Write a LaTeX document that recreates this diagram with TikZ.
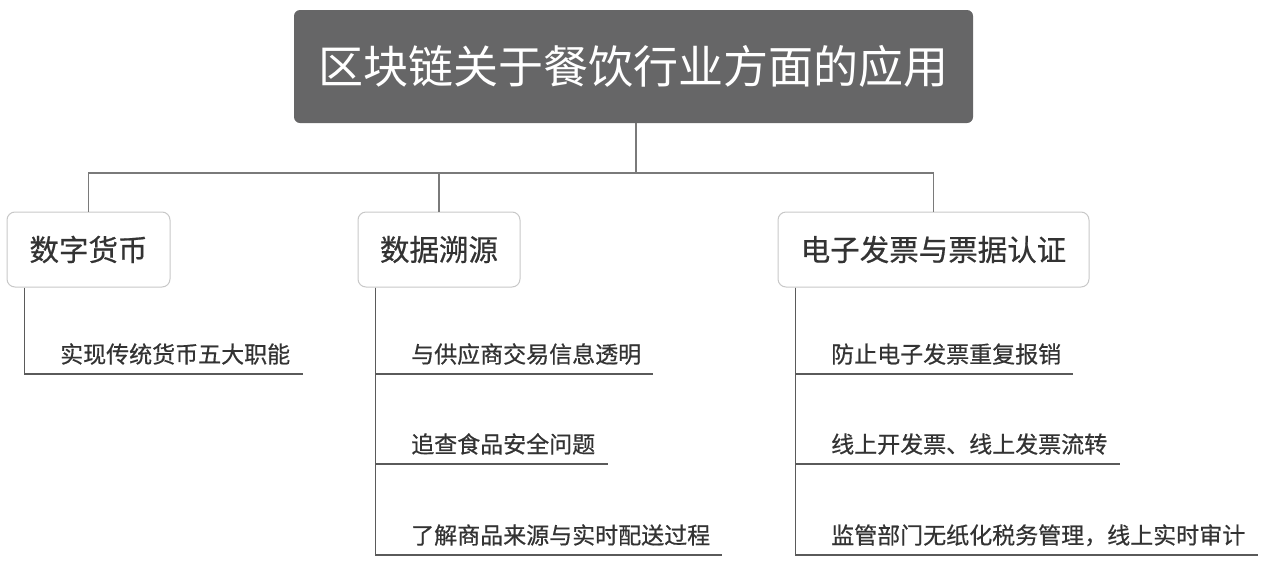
\documentclass[tikz,border=0pt]{standalone}
\usepackage{fontspec}
\setmainfont{Noto Sans CJK SC}
\newfontfamily\heavycjk[FakeBold=0.6]{Noto Sans CJK SC}
\definecolor{titlefill}{HTML}{666667}
\definecolor{boxline}{HTML}{C8C8C8}
\definecolor{connline}{HTML}{7A7A7A}
\definecolor{leafline}{HTML}{5A5A5A}
\definecolor{txt}{HTML}{333333}
\tikzset{
  titlebox/.style={draw=none, fill=titlefill, rounded corners=6pt, text=white,
    minimum width=679pt, minimum height=113pt, inner sep=0pt,
    font=\fontsize{45pt}{48pt}\selectfont},
  catbox/.style={draw=boxline, line width=1pt, fill=white, rounded corners=8pt, text=txt,
    minimum height=75pt, inner sep=0pt, font=\heavycjk\fontsize{29.5pt}{32pt}\selectfont},
  leaf/.style={anchor=south west, inner xsep=0pt, inner ysep=11pt, text depth=0pt,
    text height=20pt, align=left, text=txt, font=\heavycjk\fontsize{23pt}{26pt}\selectfont},
  conn/.style={draw=connline, line width=1.3pt},
  leafconn/.style={draw=leafline, line width=1.3pt}
}
\begin{document}
\begin{tikzpicture}[x=1pt,y=-1pt]
\useasboundingbox (0,0) rectangle (1267,563);
\node[titlebox] (title) at (633.5,66.5) {\raisebox{-3pt}{区块链关于餐饮行业方面的应用}};
\node[catbox, minimum width=163pt] (b1) at (88.5,249.5) {数字货币};
\node[catbox, minimum width=162pt] (b2) at (439,249.5) {数据溯源};
\node[catbox, minimum width=311pt] (b3) at (933.5,249.5) {电子发票与票据认证};
\coordinate (j) at (636,173);
\draw[conn] (title.south -| j) -- (j);
\draw[conn] (j) -| (b1.north);
\draw[conn] (j) -| (b2.north);
\draw[conn] (j) -| (b3.north);
% leaves of b1
\node[leaf, text width=278pt] (l11) at (25,374) {\hspace*{35pt}实现传统货币五大职能};
% leaves of b2
\node[leaf, text width=277pt] (l21) at (376,374) {\hspace*{35pt}与供应商交易信息透明};
\node[leaf, text width=232pt] (l22) at (376,464) {\hspace*{35pt}追查食品安全问题};
\node[leaf, text width=346pt] (l23) at (376,555) {\hspace*{35pt}了解商品来源与实时配送过程};
% leaves of b3
\node[leaf, text width=277pt] (l31) at (796,374) {\hspace*{35pt}防止电子发票重复报销};
\node[leaf, text width=324pt] (l32) at (796,464) {\hspace*{35pt}线上开发票、线上发票流转};
\node[leaf, text width=462pt] (l33) at (796,555) {\hspace*{35pt}监管部门无纸化税务管理，线上实时审计};
\draw[leafconn] ([xshift=18pt]b1.south west) |- (l11.south east);
\draw[leafconn] ([xshift=18pt]b2.south west) |- (l21.south east);
\draw[leafconn] ([xshift=18pt]b2.south west) |- (l22.south east);
\draw[leafconn] ([xshift=18pt]b2.south west) |- (l23.south east);
\draw[leafconn] ([xshift=18pt]b3.south west) |- (l31.south east);
\draw[leafconn] ([xshift=18pt]b3.south west) |- (l32.south east);
\draw[leafconn] ([xshift=18pt]b3.south west) |- (l33.south east);
\end{tikzpicture}
\end{document}
